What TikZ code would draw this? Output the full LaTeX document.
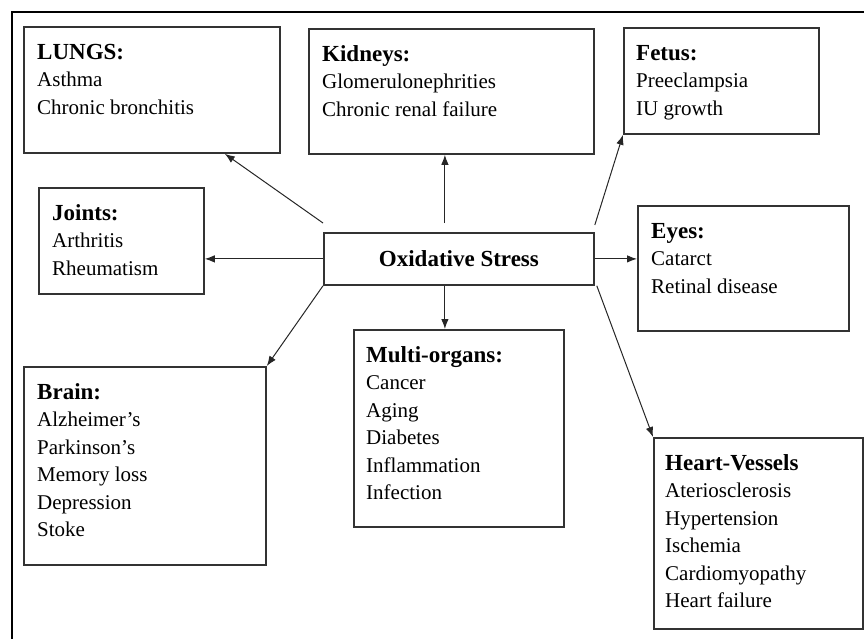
\documentclass[tikz,border=0pt]{standalone}
\usepackage{fontspec}
\setmainfont{Liberation Serif}
\usetikzlibrary{positioning, arrows.meta}
\colorlet{box_line}{black!80}
\colorlet{link_line}{black!85}
\newcommand{\organtitle}[1]{\rule{0pt}{17pt}{\fontsize{23}{27.5}\selectfont\bfseries #1}}

\begin{document}
\begin{tikzpicture}[
                        x=1pt, y=-1pt,
                        organ/.style={draw=box_line, line width=1.8pt, anchor=north west, inner sep=0pt},
                        organtext/.style={anchor=north west, align=left, inner sep=0pt, font=\fontsize{21}{27.5}\selectfont},
                        stresstext/.style={font=\fontsize{23}{27}\selectfont\bfseries},
                        link/.style={->, line width=1pt, draw=link_line},
                        >={Latex[length=10pt, width=7.5pt]},
                    ]
                        \useasboundingbox (0,0) rectangle (864,639);
                        \draw[line width=2.5pt] (12,639) -- (12,12) -- (864,12); % frame

                        %boxes
                        \node[organ, minimum width=256pt, minimum height=126pt] (lungs) at (23,26) {};
                        \node[organ, minimum width=285pt, minimum height=125pt] (kidneys) at (308,28) {};
                        \node[organ, minimum width=195pt, minimum height=106pt] (fetus) at (623,27) {};
                        \node[organ, minimum width=165pt, minimum height=106pt] (joints) at (38,187) {};
                        \node[organ, minimum width=270pt, minimum height=52pt, stresstext] (stress) at (323,232) {Oxidative Stress};
                        \node[organ, minimum width=211pt, minimum height=125pt] (eyes) at (637,205) {};
                        \node[organ, minimum width=242pt, minimum height=198pt] (brain) at (23,366) {};
                        \node[organ, minimum width=210pt, minimum height=197pt] (multi) at (353,329) {};
                        \node[organ, minimum width=209pt, minimum height=191pt] (heart) at (653,437) {};

                        % texts
                        \node[organtext] (lungs_text) at ([shift={(14pt,-16pt)}]lungs.north west)
                            {\organtitle{LUNGS:}\\Asthma\\Chronic bronchitis};
                        \node[organtext] (kidneys_text) at ([shift={(14pt,-16pt)}]kidneys.north west)
                            {\organtitle{Kidneys:}\\Glomerulonephrities\\Chronic renal failure};
                        \node[organtext] (fetus_text) at ([shift={(13pt,-16pt)}]fetus.north west)
                            {\organtitle{Fetus:}\\Preeclampsia\\IU growth};
                        \node[organtext] (joints_text) at ([shift={(14pt,-16pt)}]joints.north west)
                            {\organtitle{Joints:}\\Arthritis\\Rheumatism};
                        \node[organtext] (eyes_text) at ([shift={(14pt,-16pt)}]eyes.north west)
                            {\organtitle{Eyes:}\\Catarct\\Retinal disease};
                        \node[organtext] (brain_text) at ([shift={(14pt,-16pt)}]brain.north west)
                            {\organtitle{Brain:}\\Alzheimer’s\\Parkinson’s\\Memory loss\\Depression\\Stoke};
                        \node[organtext] (multi_text) at ([shift={(13pt,-16pt)}]multi.north west)
                            {\organtitle{Multi-organs:}\\Cancer\\Aging\\Diabetes\\Inflammation\\Infection};
                        \node[organtext] (heart_text) at ([shift={(12pt,-16pt)}]heart.north west)
                            {\organtitle{Heart-Vessels}\\Ateriosclerosis\\Hypertension\\Ischemia\\Cardiomyopathy\\Heart failure};

                        % connections
                        \draw[link] ([yshift=9pt]stress.north west) -- ([xshift=-56pt]lungs.south east);
                        \draw[link] ([shift={(-14pt,9pt)}]stress.north) -- ([xshift=-14pt]stress.north |- kidneys.south);
                        \draw[link] ([yshift=7pt]stress.north east) -- (fetus.south west);
                        \draw[link] (stress.west) -- (stress.west -| joints.east);
                        \draw[link] (stress.east) -- (stress.east -| eyes.west);
                        \draw[link] (stress.south west) -- (brain.north east);
                        \draw[link] ([xshift=-14pt]stress.south) -- ([xshift=-14pt]stress.south |- multi.north);
                        \draw[link] ([xshift=2pt]stress.south east) -- (heart.north west);
                    \end{tikzpicture}
\end{document}
